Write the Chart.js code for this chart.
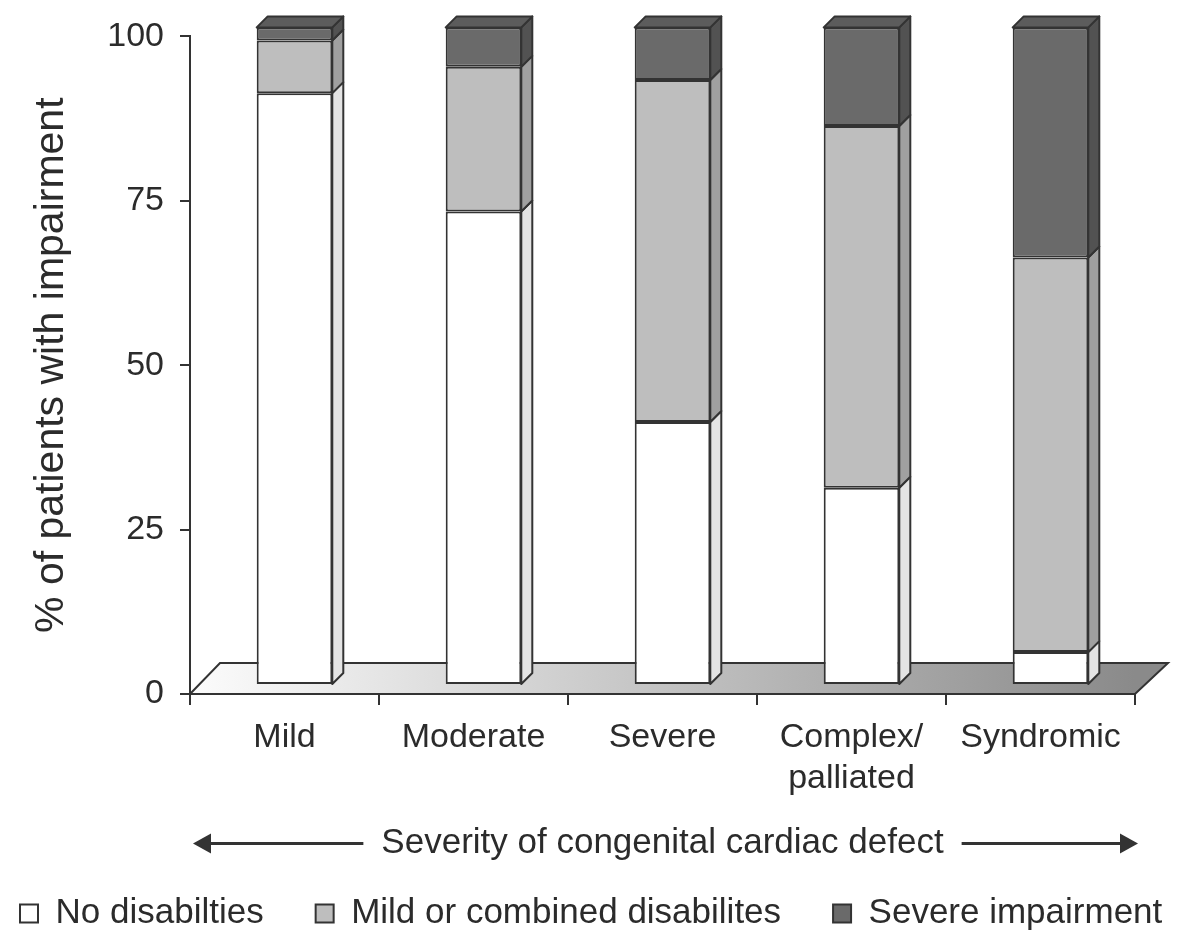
<!DOCTYPE html>
<html>
<head>
<meta charset="utf-8">
<script src="https://cdn.jsdelivr.net/npm/chart.js@4.4.1/dist/chart.umd.min.js"></script>
<style>
html,body{margin:0;padding:0;background:#fff;}
</style>
</head>
<body>
<canvas id="chart" width="1199" height="934"></canvas>
<script>
// values (percent of patients)
const categories=["Mild","Moderate","Severe",["Complex/","palliated"],"Syndromic"];
const noDisab=[90,72,40,30,5];
const mildComb=[8,22,52,55,60];
const severeImp=[2,6,8,15,35];
const yTickValues=[0,25,50,75,100];
const seriesNames=["No disabilties","Mild or combined disabilites","Severe impairment"];
const xTitle="Severity of congenital cardiac defect";
const yTitle="% of patients with impairment";

const FONT="'Liberation Sans', Arial, Helvetica, sans-serif";
const TXT="#2b2b2b";
const LINE="#333333";
const frontCols=["#ffffff","#bebebe","#6a6a6a"];
const sideCols=["#e4e4e4","#a0a0a0","#525252"];
const topCols=["#f0f0f0","#cccccc","#5c5c5c"];

// 3d offsets
const DX=10, DY=-9, DEPTH=11;
const LEGEND_H=90, LEGEND_PAD=52, LEGEND_X=20;

const floorAndDepth={
id:"floorAndDepth",
beforeUpdate(chart){
// one row legend with fixed height
const lg=chart.legend;
if(lg && !lg._wideFit){
const fit=lg.fit;
lg.fit=function(){
this.maxWidth=3000;
fit.call(this);
this.width=chart.width;
this.height=LEGEND_H;
};
lg._wideFit=true;
}
},
afterLayout(chart){
const lg=chart.legend;
lg.left=LEGEND_X-LEGEND_PAD;
lg.right=chart.width+200;
},
beforeDatasetsDraw(chart){
const {ctx,chartArea:a,scales:{y}}=chart;
const y0=y.getPixelForValue(0);
ctx.save();
const g=ctx.createLinearGradient(a.left,0,a.right,0);
g.addColorStop(0,"#fcfcfc");
g.addColorStop(1,"#8a8a8a");
ctx.beginPath();
ctx.moveTo(a.left,y0);
ctx.lineTo(a.left+30,y0-31);
ctx.lineTo(a.right+33,y0-31);
ctx.lineTo(a.right,y0);
ctx.closePath();
ctx.fillStyle=g;
ctx.fill();
ctx.strokeStyle=LINE;
ctx.lineWidth=2;
ctx.stroke();
ctx.restore();
// push the bars back into the floor
ctx.save();
ctx.translate(DX,DY);
},
afterDatasetsDraw(chart){
const {ctx}=chart;
const n=chart.data.datasets.length;
ctx.lineJoin="round";
chart.data.datasets.forEach((ds,i)=>{
const meta=chart.getDatasetMeta(i);
meta.data.forEach(bar=>{
const {x,y,base,width}=bar.getProps(["x","y","base","width"],true);
const l=x-width/2, r=x+width/2;
ctx.beginPath();
ctx.moveTo(r,y);
ctx.lineTo(r+DEPTH,y-DEPTH);
ctx.lineTo(r+DEPTH,base-DEPTH);
ctx.lineTo(r,base);
ctx.closePath();
ctx.fillStyle=sideCols[i];
ctx.fill();
ctx.strokeStyle=LINE;
ctx.lineWidth=2;
ctx.stroke();
if(i===n-1){
ctx.beginPath();
ctx.moveTo(l,y);
ctx.lineTo(l+DEPTH,y-DEPTH);
ctx.lineTo(r+DEPTH,y-DEPTH);
ctx.lineTo(r,y);
ctx.closePath();
ctx.fillStyle=topCols[i];
ctx.fill();
ctx.stroke();
}
});
});
ctx.restore();
}
};

// arrows either side of the x title
const arrowTitle={
id:"arrowTitle",
afterDraw(chart){
const {ctx,chartArea:a,scales:{x}}=chart;
const t=x.options.title;
ctx.save();
ctx.font=t.font.size+"px "+FONT;
const tw=ctx.measureText(xTitle).width;
const cx=(x.left+x.right)/2;
const cy=x.bottom-t.padding.bottom-0.5;
const gap=18, head=18, hh=10;
const lTip=a.left+3, rTip=a.right+3;
ctx.strokeStyle=LINE;
ctx.fillStyle=LINE;
ctx.lineWidth=3;
ctx.beginPath();
ctx.moveTo(lTip+head-2,cy);
ctx.lineTo(cx-tw/2-gap,cy);
ctx.moveTo(cx+tw/2+gap,cy);
ctx.lineTo(rTip-head+2,cy);
ctx.stroke();
ctx.beginPath();
ctx.moveTo(lTip,cy);
ctx.lineTo(lTip+head,cy-hh);
ctx.lineTo(lTip+head,cy+hh);
ctx.closePath();
ctx.fill();
ctx.beginPath();
ctx.moveTo(rTip,cy);
ctx.lineTo(rTip-head,cy-hh);
ctx.lineTo(rTip-head,cy+hh);
ctx.closePath();
ctx.fill();
ctx.restore();
}
};

const common={borderColor:LINE,borderWidth:2,borderSkipped:false,barPercentage:0.4,categoryPercentage:1,clip:false};

new Chart(document.getElementById("chart"),{
type:"bar",
data:{
labels:categories,
datasets:[
Object.assign({label:seriesNames[0],data:noDisab,backgroundColor:frontCols[0]},common),
Object.assign({label:seriesNames[1],data:mildComb,backgroundColor:frontCols[1]},common),
Object.assign({label:seriesNames[2],data:severeImp,backgroundColor:frontCols[2]},common)
]
},
options:{
responsive:false,
animation:false,
layout:{padding:{left:0,right:64,top:33,bottom:0}},
plugins:{
tooltip:{enabled:false},
legend:{
position:"bottom",
align:"start",
labels:{color:TXT,font:{family:FONT,size:35},boxWidth:18,boxHeight:18,padding:LEGEND_PAD}
}
},
scales:{
x:{
stacked:true,
afterFit(s){s.height=150;},
grid:{drawOnChartArea:false,drawTicks:true,tickLength:11,color:LINE,lineWidth:2,offset:true},
border:{display:true,color:LINE,width:2},
ticks:{color:TXT,font:{family:FONT,size:34},padding:12,maxRotation:0,autoSkip:false},
title:{display:true,text:xTitle,color:TXT,font:{family:FONT,size:35,lineHeight:"1px"},padding:{top:0,bottom:0}}
},
y:{
stacked:true,
min:0,max:100,
afterFit(s){s.width=190;},
afterBuildTicks(s){s.ticks=yTickValues.map(v=>({value:v}));},
grid:{drawOnChartArea:false,drawTicks:true,tickLength:10,color:LINE,lineWidth:2},
border:{display:true,color:LINE,width:2},
ticks:{color:TXT,font:{family:FONT,size:34},padding:16},
title:{display:true,text:yTitle,color:TXT,font:{family:FONT,size:41},padding:{top:27,bottom:0}}
}
}
},
plugins:[floorAndDepth,arrowTitle]
});
</script>
</body>
</html>
